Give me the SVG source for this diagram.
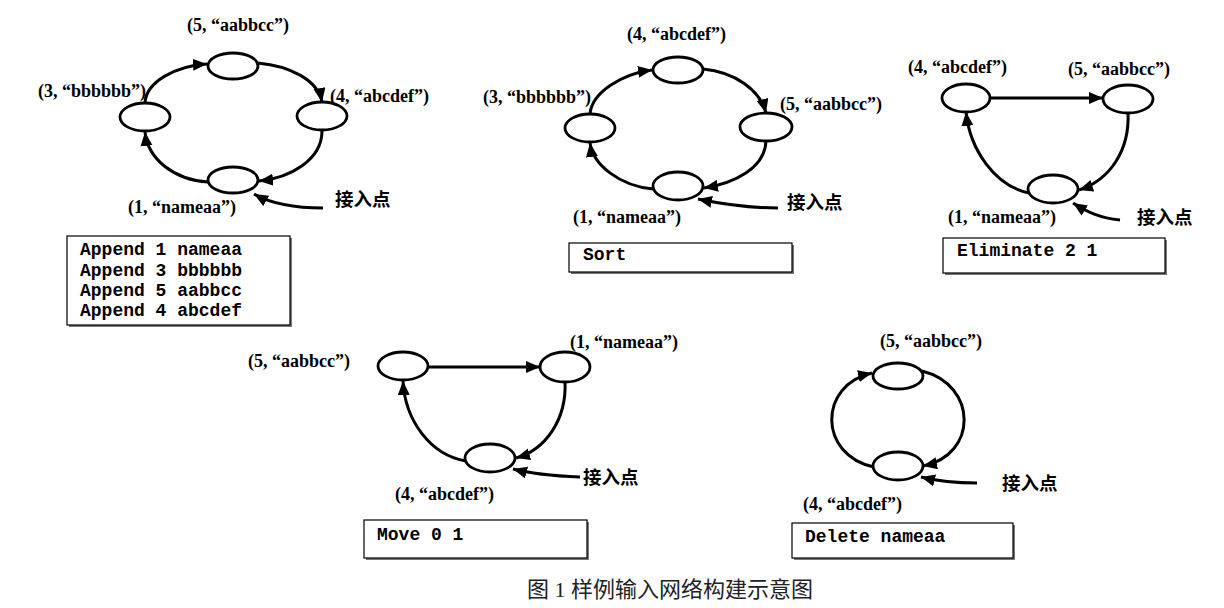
<svg xmlns="http://www.w3.org/2000/svg" width="1224" height="608" viewBox="0 0 1224 608">
<style>
.node{fill:#fff;stroke:#000;stroke-width:2.8}
.edge{fill:none;stroke:#000;stroke-width:3}
.lbl{font-family:"Liberation Serif","Times New Roman",serif;font-weight:bold;font-size:18px;fill:#000}
.cn{font-family:"Noto Sans CJK SC",sans-serif;font-weight:bold;font-size:18.5px;fill:#000}
.code{font-family:"Liberation Mono","Courier New",monospace;font-weight:bold;font-size:18px;fill:#000}
.box{fill:#fff;stroke:#000;stroke-width:1.2}
.shadow{fill:#777}
.cap{font-family:"Liberation Serif","Noto Sans CJK SC",serif;font-size:22px;fill:#222}
</style>
<defs>
<marker id="ah" markerUnits="userSpaceOnUse" markerWidth="16" markerHeight="14" refX="14" refY="6" orient="auto">
<path d="M0,0 L14,6 L0,12 Z" fill="#000"/>
</marker>
</defs>
<rect width="1224" height="608" fill="#fff"/>

<g id="connectors">
<!-- top-left -->
<path class="edge" marker-end="url(#ah)" d="M145,103 C146,82 175,66 207,64"/>
<path class="edge" marker-end="url(#ah)" d="M258,63 C290,66 318,80 322,102"/>
<path class="edge" marker-end="url(#ah)" d="M322,131 C322,160 290,178 259,181"/>
<path class="edge" marker-end="url(#ah)" d="M208,182 C175,180 148,160 145,132"/>
<path class="edge" marker-end="url(#ah)" d="M323,208 C295,208 270,203 254,194"/>
<!-- top-middle -->
<path class="edge" marker-end="url(#ah)" d="M590,114 C592,92 622,74 652,70"/>
<path class="edge" marker-end="url(#ah)" d="M703,69 C735,72 760,90 766,113"/>
<path class="edge" marker-end="url(#ah)" d="M766,141 C765,168 735,183 704,188"/>
<path class="edge" marker-end="url(#ah)" d="M653,189 C620,186 593,165 590,143"/>
<path class="edge" marker-end="url(#ah)" d="M778,208 C750,208 722,204 698,199"/>
<!-- top-right -->
<path class="edge" marker-end="url(#ah)" d="M990,98 L1103,98"/>
<path class="edge" marker-end="url(#ah)" d="M1128,112 C1130,150 1110,180 1079,190"/>
<path class="edge" marker-end="url(#ah)" d="M1029,193 C995,186 970,150 966,112"/>
<path class="edge" marker-end="url(#ah)" d="M1120,220 C1100,218 1087,212 1073,203"/>
<!-- bottom-left -->
<path class="edge" marker-end="url(#ah)" d="M428,367 L540,367"/>
<path class="edge" marker-end="url(#ah)" d="M565,381 C567,420 545,450 516,458"/>
<path class="edge" marker-end="url(#ah)" d="M466,461 C430,455 405,420 403,381"/>
<path class="edge" marker-end="url(#ah)" d="M580,477 C555,476 532,474 513,469"/>
<!-- bottom-right -->
<path class="edge" marker-end="url(#ah)" d="M922,371 C978,385 978,455 923,466"/>
<path class="edge" marker-end="url(#ah)" d="M874,467 C818,455 818,385 872,373"/>
<path class="edge" marker-end="url(#ah)" d="M977,483 C955,483 937,481 921,477"/>
</g>

<!-- Diagram 1 -->
<g id="d1-n5"><ellipse class="node" cx="233" cy="66" rx="25" ry="13"/><text class="lbl" x="187" y="31">(5, “aabbcc”)</text></g>
<g id="d1-n3"><ellipse class="node" cx="145" cy="117" rx="25" ry="14"/><text class="lbl" x="38" y="97">(3, “bbbbbb”)</text></g>
<g id="d1-n4"><ellipse class="node" cx="322" cy="116" rx="25" ry="14"/><text class="lbl" x="330" y="102">(4, “abcdef”)</text></g>
<g id="d1-n1"><ellipse class="node" cx="233" cy="180" rx="25" ry="13"/><text class="lbl" x="128" y="213">(1, “nameaa”)</text></g>
<g id="d1-entry"><text class="cn" x="335" y="206">接入点</text></g>
<g id="d1-box"><rect class="shadow" x="69" y="238" width="223" height="89"/><rect class="box" x="67" y="236" width="223" height="89"/>
<text class="code" x="80" y="255">Append 1 nameaa</text>
<text class="code" x="80" y="276">Append 3 bbbbbb</text>
<text class="code" x="80" y="296">Append 5 aabbcc</text>
<text class="code" x="80" y="316">Append 4 abcdef</text></g>

<!-- Diagram 2 -->
<g id="d2-n4"><ellipse class="node" cx="678" cy="70" rx="25" ry="13"/><text class="lbl" x="627" y="40">(4, “abcdef”)</text></g>
<g id="d2-n3"><ellipse class="node" cx="590" cy="128" rx="25" ry="14"/><text class="lbl" x="483" y="103">(3, “bbbbbb”)</text></g>
<g id="d2-n5"><ellipse class="node" cx="766" cy="127" rx="26" ry="14"/><text class="lbl" x="780" y="110">(5, “aabbcc”)</text></g>
<g id="d2-n1"><ellipse class="node" cx="678" cy="186" rx="25" ry="14"/><text class="lbl" x="573" y="223">(1, “nameaa”)</text></g>
<g id="d2-entry"><text class="cn" x="787" y="209">接入点</text></g>
<g id="d2-box"><rect class="shadow" x="571" y="245" width="223" height="29"/><rect class="box" x="569" y="243" width="223" height="29"/>
<text class="code" x="583" y="260">Sort</text></g>

<!-- Diagram 3 -->
<g id="d3-n4"><ellipse class="node" cx="966" cy="98" rx="24" ry="14"/><text class="lbl" x="908" y="73">(4, “abcdef”)</text></g>
<g id="d3-n5"><ellipse class="node" cx="1128" cy="99" rx="25" ry="14"/><text class="lbl" x="1068" y="75">(5, “aabbcc”)</text></g>
<g id="d3-n1"><ellipse class="node" cx="1053" cy="189" rx="25" ry="14"/><text class="lbl" x="948" y="223">(1, “nameaa”)</text></g>
<g id="d3-entry"><text class="cn" x="1137" y="224">接入点</text></g>
<g id="d3-box"><rect class="shadow" x="945" y="240" width="222" height="35"/><rect class="box" x="943" y="238" width="222" height="35"/>
<text class="code" x="957" y="256">Eliminate 2 1</text></g>

<!-- Diagram 4 -->
<g id="d4-n5"><ellipse class="node" cx="403" cy="366" rx="25" ry="14"/><text class="lbl" x="248" y="367">(5, “aabbcc”)</text></g>
<g id="d4-n1"><ellipse class="node" cx="565" cy="367" rx="25" ry="15"/><text class="lbl" x="570" y="348">(1, “nameaa”)</text></g>
<g id="d4-n4"><ellipse class="node" cx="490" cy="458" rx="25" ry="14"/><text class="lbl" x="395" y="500">(4, “abcdef”)</text></g>
<g id="d4-entry"><text class="cn" x="583" y="484">接入点</text></g>
<g id="d4-box"><rect class="shadow" x="366" y="522" width="223" height="38"/><rect class="box" x="364" y="520" width="223" height="38"/>
<text class="code" x="377" y="540">Move 0 1</text></g>

<!-- Diagram 5 -->
<g id="d5-n5"><ellipse class="node" cx="898" cy="376" rx="25" ry="13"/><text class="lbl" x="880" y="347">(5, “aabbcc”)</text></g>
<g id="d5-n4"><ellipse class="node" cx="898" cy="466" rx="25" ry="14"/><text class="lbl" x="803" y="510">(4, “abcdef”)</text></g>
<g id="d5-entry"><text class="cn" x="1002" y="490">接入点</text></g>
<g id="d5-box"><rect class="shadow" x="794" y="525" width="221" height="35"/><rect class="box" x="792" y="523" width="221" height="35"/>
<text class="code" x="805" y="542">Delete nameaa</text></g>

<text class="cap" x="670" y="597" text-anchor="middle">图 1 样例输入网络构建示意图</text>
</svg>
